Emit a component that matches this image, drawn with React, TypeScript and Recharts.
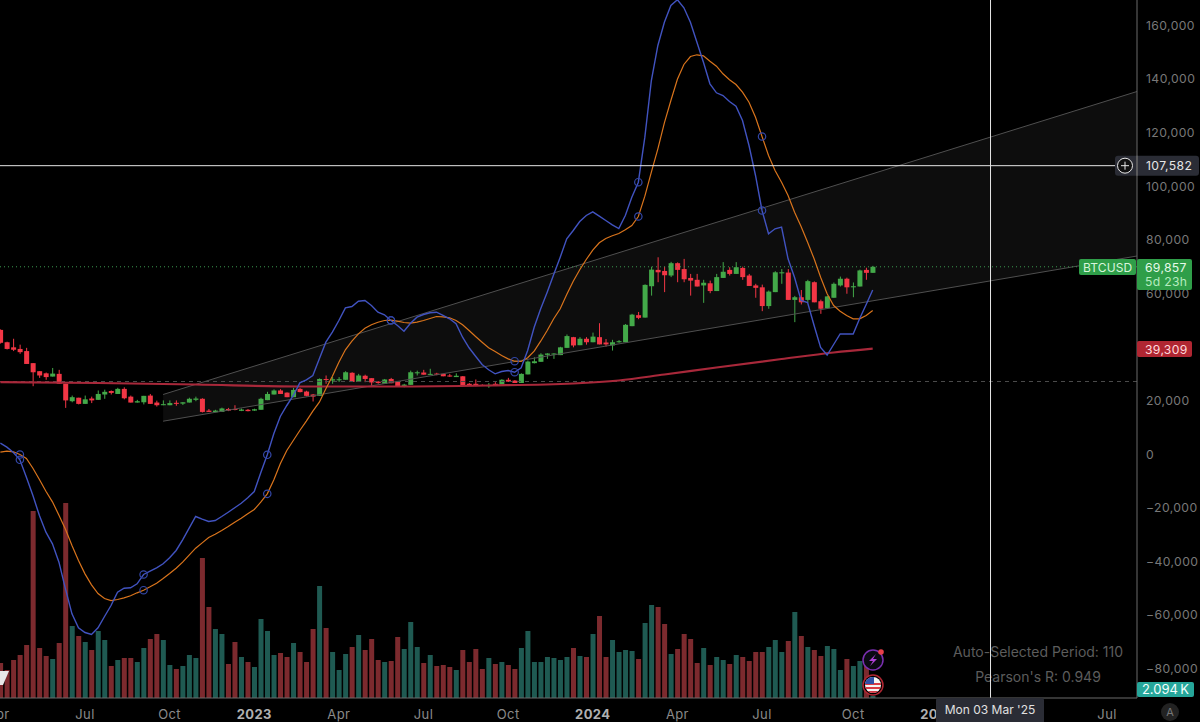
import React from "react";
import {
  ComposedChart, XAxis, YAxis, Bar, Line, Area, ReferenceLine,
} from "recharts";

const opens = [46.3,41.7,39.8,39.2,38.4,33.9,30.9,30.1,28.9,29.9,
26.2,19.7,21,18.7,20.7,20.2,22.2,23.5,22.4,24.3,
21.4,19.2,19.3,21.8,19.2,18.2,18.2,19.1,18.8,19.2,
20.2,20.6,16.2,15.6,15.7,16.8,16.8,16.1,16.5,16.2,
16.5,20.1,22.2,23.7,22.9,21.2,24.3,23.3,22.2,21.7,
28,27.4,27.5,27.7,30.3,26.9,29.2,28.3,27,26.2,
28,27,25.4,25.8,30.1,30.4,29.6,30,29.9,29.3,
28.7,29,26.2,26.2,25.8,25.3,26.2,25.9,27.7,27.4,
26.5,29.7,33.9,34.4,37,37.1,36.9,39.6,43.6,40.6,
43,41.7,43.6,41.6,40.5,41.7,41.7,47.7,51.8,50.9,
62.6,68.7,68.3,66.6,71.2,69,65.7,65,62.9,63.7,
60.8,65.7,68.7,67.2,69.4,66.6,62.9,62.2,55.2,60.4,
67.4,67.7,57.5,58.5,57.5,64.1,57,54.4,58.3,62.9,
65.4,62.2,62.5,68.7,67.6];
const closes = [41.5,39.2,38.9,38,33.6,30.5,29.3,28.7,30,26.2,
20,21.2,18.7,20.4,20,22.4,23.2,22.8,24.3,20.8,
19.2,19.7,21.7,18.7,18.2,18.6,19,18.7,19.3,20.6,
20.7,15.7,15.7,16.2,17,16.2,16.5,16.6,16,16.7,
20.6,22.4,23.7,22.4,21.2,23.9,23.1,21.7,21.4,28,
27.7,27.9,27.9,30.5,26.9,29.3,28,26.7,26.5,27.8,
26.4,25.2,25.9,30.5,30.5,29.6,29.9,29.6,29,28.9,
29.2,25.5,25.5,25.4,25.5,25.8,25.5,27.7,27,26.5,
29.9,34.5,34.6,37.1,37.5,37.5,39.8,44,40.5,43,
41.7,43.8,40.9,40.9,41.7,42.1,48.2,52,50.8,63.1,
68.8,67.8,66.7,71.2,68.7,65.2,64.7,62.5,63.9,60.8,
66,68,67.2,69.7,66,62.7,62,55.2,60.6,67.8,
67.8,57.5,58.5,56.6,64.5,56.6,54.2,58.8,63.5,65.4,
62.2,62.6,68.5,67.6,69.857];
const highs = [46.5,41.9,43,40.8,39.6,33.9,30.9,30.4,32.1,31.4,
26.2,21.8,21,21.8,21.4,23.7,24,23.7,24.7,24.9,
21.8,20.2,21.7,22.4,19.9,20,20,20,19.3,21,
21.4,20.8,16.8,16.5,17.3,17.2,18.2,17,16.8,16.9,
21,23.2,24.1,24.2,23,24.7,24.6,23.6,22.4,28.2,
29.3,28.7,28.7,30.9,30.5,29.9,29.6,28.3,27.2,28,
28.4,27.2,26.2,31.1,31.1,31.4,31.8,30.3,30,29.9,
30.1,29.1,26.5,27.8,26,26.5,26.8,27.9,28.4,27.6,
30.1,34.9,36.1,37.6,37.6,37.6,40,44.6,43.7,43.6,
43.6,45.3,48.8,42.9,42.6,42.5,48.5,52.3,53,63.3,
69.9,73.4,69.9,71.7,71.5,72.8,67.2,67.2,65,64.7,
67.2,71.6,69.7,71.6,69.9,67.2,63.5,63.2,61,68.2,
69,69,59,61.2,65,64.4,57.6,59,64,66.2,
65.8,64,68.8,69.5,70.2];
const lows = [41.2,39,38.4,37.4,33.6,25.3,28.4,27.7,28.9,26.2,
17.2,19.3,18.5,18.7,19,20.2,20.6,22.2,22.4,20.4,
19.2,19.2,18.5,18.7,17.7,18.2,18.2,18,18.3,19.2,
19.7,15.5,15.7,15.6,15.7,16,16.3,16,15.9,16.1,
16.5,20.1,22.2,22.4,21.2,21.2,23,21.5,19.6,21.7,
26.2,26.2,26.9,27.7,26.9,26.9,26.8,25.3,26.2,26.2,
26.4,25.2,24.9,25.8,29.3,29.6,29.6,29.4,29,28.8,
28.7,25.5,25.5,25.3,25.4,24.7,25.5,25.9,26.9,26.5,
26.5,29.7,33.8,34.4,35.5,35.5,36.9,39.6,39.8,40.6,
40.8,41.7,40.9,40.1,38.6,41.5,41.7,47.7,50.3,50.9,
59.1,64.1,60.4,66,64.1,64.1,59.1,62.5,56.4,60,
60.8,65.7,66.6,67.2,65,62.7,58.3,53.3,54.2,60.4,
63.5,57.5,49.2,55.8,56.5,56.6,52.3,54.4,58.3,62.5,
59.8,58.5,62.5,65,67.6];
const volumes = [35,28,38,43,53,187,50,42,39,55,
195,72,62,56,48,67,58,32,38,40,
40,36,50,59,64,58,33,29,32,43,
40,140,91,69,64,34,56,41,36,31,
79,67,43,45,41,55,46,36,69,112,
70,46,28,44,51,63,48,59,38,36,
37,61,49,76,51,35,43,32,33,31,
28,48,36,49,29,40,34,36,33,29,
50,67,36,36,41,40,38,41,50,42,
41,64,82,41,58,46,48,47,39,75,
93,91,74,44,49,64,59,35,50,33,
41,38,34,43,41,37,46,46,51,58,
46,57,86,62,51,48,42,52,49,28,
39,32,37,35,2.094];
const blueLine = [4030,2540,560,-2170,-8650,-15480,-22950,-29160,-33520,-40360,
-50300,-59640,-64870,-66600,-67350,-64870,-60630,-56530,-51560,-50070,
-49930,-48430,-44960,-43730,-42460,-40970,-38730,-36000,-32010,-27690,
-23320,-24330,-25190,-24810,-23320,-21720,-20070,-18360,-16340,-13990,
-7000,-300,7530,13990,18100,21830,26550,27670,29290,35510,
41730,45460,49800,54550,55040,57020,57280,55410,52910,51940,
49810,47950,45820,48810,51040,52050,52690,52910,51680,50450,
48580,43580,39630,36490,33390,31420,29920,30780,31160,30520,
32160,38620,47310,54180,60380,66980,73430,80290,83400,86750,
89000,90370,88730,87130,85520,84140,89000,95820,101420,118210,
139360,152430,161120,167350,169500,166490,161120,153660,146190,138130,
134780,133770,131530,129780,124440,115110,103920,90860,82170,84030,
84630,72830,65860,57280,56530,47950,39740,36940,40860,44780,
44780,44780,50560,55780,61190];
const orangeLine = [670,1050,820,-190,-1680,-5300,-9510,-13880,-17840,-22820,
-28060,-34140,-39740,-44720,-48820,-52050,-53920,-54670,-54290,-53670,
-52910,-51800,-50820,-49560,-48200,-46460,-44590,-42610,-40360,-37760,
-35150,-33150,-31160,-29910,-28540,-27050,-25430,-23950,-22320,-20710,
-17990,-14860,-9700,-3660,1310,5040,8770,12240,15970,19330,
24330,29030,34250,38880,42090,44850,46940,48210,49180,49810,
49930,49550,49070,48810,49180,49810,50560,51300,51190,50820,
49810,48210,46080,43840,41720,39630,38250,36750,35510,34630,
34510,35900,38360,42090,46080,50450,54180,59510,64480,68730,
72570,76050,78800,80410,81420,82270,83660,85260,88620,96200,
105150,113880,123580,131900,139850,145340,148320,148960,148580,146570,
144700,141870,139630,137870,135000,131270,125670,118470,111380,105780,
101420,96460,90220,84890,79030,72830,65970,59780,55410,53280,
51680,50450,50450,51680,53540];
const maWeeks = [0,15,30,46,60,75,88,95,102,110,120,128,134];
const maValues = [26790,26490,25930,25190,25190,25560,26310,27430,29660,32280,35450,37870,39309];
const crossWeeks = [3,22,41,60,79,98,117];
const channelWeeks = [25,174.6];
const channelUpper = [22200,135260];
const channelLower = [12240,73880];
const priceTicks = [160000,140000,120000,100000,80000,60000,20000,0,-20000,-40000,-60000,-80000];
const timeTicks = [-0.05,13,26,39,52,65,78,91,104,117,131,144,170];
const timeLabels = ["Apr","Jul","Oct","2023","Apr","Jul","Oct","2024","Apr","Jul","Oct","2025","Jul"];
const lastPrice = 69857;
const cursorPrice = 107582;
const cursorWeek = 152.1;
const dashedLevel = 27050;

const UP = "#43a949";
const DOWN = "#f23645";
const VOL_UP = "#1f5a52";
const VOL_DOWN = "#7c2a2e";
const FONT = "Inter, sans-serif";

const rows = opens.map((o, i) => {
  const m = maWeeks.indexOf(i);
  return {
    i,
    open: o * 1000,
    close: closes[i] * 1000,
    high: highs[i] * 1000,
    low: lows[i] * 1000,
    volume: volumes[i],
    blue: blueLine[i],
    orange: orangeLine[i],
    ma: m >= 0 ? maValues[m] : null,
  };
});
const channelRows = channelWeeks.map((i, k) => ({
  i,
  upper: channelUpper[k],
  lower: channelLower[k],
  band: [channelLower[k], channelUpper[k]],
}));

const Candle = (props: any) => {
  const { x, y, width, height, payload } = props;
  const top = Math.min(y, y + height);
  const h = Math.abs(height);
  const range = Math.max(payload.high - payload.low, 1);
  const yOf = (v: number) => top + ((payload.high - v) / range) * h;
  const up = payload.close >= payload.open;
  const color = up ? UP : DOWN;
  const by = yOf(Math.max(payload.open, payload.close));
  const bb = yOf(Math.min(payload.open, payload.close));
  const cx = x + width / 2;
  return (
    <g>
      <line x1={cx} x2={cx} y1={top} y2={top + h} stroke={color} strokeWidth={1} />
      <rect x={x} y={by} width={width} height={Math.max(bb - by, 1)} fill={color} />
    </g>
  );
};

const VolumeBar = (props: any) => {
  const { x, y, width, height, payload } = props;
  const up = payload.close >= payload.open;
  return <rect x={x} y={y} width={width} height={height} fill={up ? VOL_UP : VOL_DOWN} />;
};

const crossDot = (props: any) => {
  const { cx, cy, payload, index } = props;
  if (!crossWeeks.includes(payload.i)) return <g key={index} />;
  return <circle key={index} cx={cx} cy={cy} r={3.7} fill="none" stroke="#3347a8" strokeWidth={1.2} />;
};

const PriceTick = (props: any) => {
  const { x, y, payload } = props;
  const v = payload.value;
  const s = (v < 0 ? "\u2212" : "") + Math.abs(v).toLocaleString("en-US");
  return (
    <text x={x + 1} y={y + 4.5} fill="#787878" fontFamily={FONT} fontSize={12.2} letterSpacing={0.4}>{s}</text>
  );
};

const TimeTick = (props: any) => {
  const { x, y, payload } = props;
  const k = timeTicks.indexOf(payload.value);
  const label = timeLabels[k];
  const year = /^\d+$/.test(label);
  return (
    <text x={k === 0 ? x - 2 : x} y={y + 13} textAnchor="middle" fill={year ? "#b0b0b0" : "#8a8a8a"}
      fontFamily={FONT} fontSize={13} fontWeight={year ? 700 : 400} letterSpacing={0.4}>{label}</text>
  );
};

const CursorBadge = (props: any) => {
  const { viewBox } = props;
  const y = viewBox.y;
  return (
    <g>
      <rect x={1115} y={y - 10} width={84} height={20} rx={3} fill="#2a2c35" />
      <line x1={1137} x2={1137} y1={y - 10} y2={y + 10} stroke="#6a6a6a" />
      <circle cx={1125} cy={y} r={7.5} fill="#111" stroke="#e8e8e8" strokeWidth={1} />
      <path d={`M1121 ${y}H1129M1125 ${y - 4}V${y + 4}`} stroke="#e8e8e8" strokeWidth={1} />
      <text x={1146} y={y + 4.5} fill="#e6e6e6" fontFamily={FONT} fontSize={12.2} letterSpacing={0.4}>107,582</text>
    </g>
  );
};

const overlayText = (s: React.CSSProperties): React.CSSProperties => ({
  position: "absolute",
  fontFamily: FONT,
  whiteSpace: "nowrap",
  ...s,
});

export default function App() {
  return (
    <div style={{ position: "fixed", left: 0, top: 0, width: 1200, height: 722, background: "#000", overflow: "hidden" }}>
      <div style={overlayText({ left: 938, width: 200, top: 643, textAlign: "center", fontSize: 14, color: "#5c5c5c" })}>
        Auto-Selected Period: 110
      </div>
      <div style={overlayText({ left: 938, width: 200, top: 668, textAlign: "center", fontSize: 14, color: "#5c5c5c" })}>
        Pearson's R: 0.949
      </div>
      <div style={{ position: "absolute", left: 0, top: 0 }}>
        <ComposedChart width={1200} height={722} data={rows} margin={{ top: 0, right: 0, bottom: 0, left: 0 }}>
          <XAxis
            dataKey="i" type="number" domain={[-0.055, 174.6]} allowDataOverflow
            ticks={timeTicks} interval={0} tick={<TimeTick />} tickLine={false}
            axisLine={{ stroke: "#6a6a6a" }} height={24}
          />
          <XAxis xAxisId="vol" dataKey="i" type="number" domain={[-0.055, 174.6]} allowDataOverflow hide />
          <YAxis
            yAxisId="price" orientation="right" width={63} type="number"
            domain={[-91044, 169403]} allowDataOverflow ticks={priceTicks} interval={0}
            tick={<PriceTick />} tickLine={false} axisLine={{ stroke: "#6a6a6a" }}
          />
          <YAxis yAxisId="volume" hide type="number" domain={[0, 698]} allowDataOverflow />

          <Bar xAxisId="vol" yAxisId="volume" dataKey="volume" barSize={5} shape={<VolumeBar />} isAnimationActive={false} />

          <Area
            yAxisId="price" data={channelRows} dataKey="band" type="linear"
            fill="#ffffff" fillOpacity={0.05} stroke="none" isAnimationActive={false} dot={false} activeDot={false}
          />
          <Line yAxisId="price" data={channelRows} dataKey="upper" type="linear" stroke="#4f4f4f" strokeWidth={1} dot={false} activeDot={false} isAnimationActive={false} />
          <Line yAxisId="price" data={channelRows} dataKey="lower" type="linear" stroke="#4f4f4f" strokeWidth={1} dot={false} activeDot={false} isAnimationActive={false} />

          <ReferenceLine yAxisId="price" y={dashedLevel} stroke="#4a4a4a" strokeDasharray="4 4" />
          <ReferenceLine yAxisId="price" y={lastPrice} stroke="#3b9a50" strokeDasharray="1 3" />

          <Line yAxisId="price" dataKey="ma" type="monotone" connectNulls stroke="#a8283a" strokeWidth={2.2} dot={false} activeDot={false} isAnimationActive={false} />

          <Bar yAxisId="price" dataKey={(d: any) => [d.low, d.high]} barSize={5} shape={<Candle />} isAnimationActive={false} />

          <Line yAxisId="price" dataKey="orange" type="linear" stroke="#d9741c" strokeWidth={1.2} dot={crossDot} activeDot={false} isAnimationActive={false} />
          <Line yAxisId="price" dataKey="blue" type="linear" stroke="#4153c0" strokeWidth={1.4} dot={crossDot} activeDot={false} isAnimationActive={false} />

          <ReferenceLine yAxisId="price" x={cursorWeek} stroke="#e6e6e6" strokeWidth={1} />
          <ReferenceLine yAxisId="price" y={cursorPrice} stroke="#e6e6e6" strokeWidth={1} label={<CursorBadge />} />
        </ComposedChart>
      </div>

      <div style={overlayText({ left: 1137, top: 682, width: 57, height: 15, lineHeight: "15px", borderRadius: 2, background: "#26a69a", color: "#f2fffd", fontSize: 13, textAlign: "center" })}>
        2.094{"\u2009"}K
      </div>
      <div style={overlayText({ left: 936, top: 698, width: 108, height: 24, lineHeight: "24px", borderRadius: "2px 2px 0 0", background: "#2a2c35", color: "#e0e0e0", fontSize: 12, textAlign: "center" })}>
        Mon 03 Mar '25
      </div>
      <div style={overlayText({ left: 1161, top: 703, width: 18, height: 18, lineHeight: "18px", borderRadius: 9, background: "#222", color: "#777", fontSize: 11, textAlign: "center" })}>
        A
      </div>
      <svg width={1200} height={722} style={{ position: "absolute", left: 0, top: 0, pointerEvents: "none" }}>
        <defs>
          <clipPath id="flagClip"><circle cx={873} cy={685} r={8} /></clipPath>
        </defs>
        <rect x={1079} y={259} width={57} height={16} rx={2} fill="#2f9e49" />
        <text x={1083} y={271.5} fill="#d8f5dc" fontFamily={FONT} fontSize={12} letterSpacing={0.1}>BTCUSD</text>
        <rect x={1137} y={259} width={55} height={31} rx={2} fill="#2f9e49" />
        <text x={1145} y={271.5} fill="#e6fae9" fontFamily={FONT} fontSize={12.2} letterSpacing={0.3}>69,857</text>
        <text x={1145} y={285.5} fill="#b5ecbf" fontFamily={FONT} fontSize={12.2} letterSpacing={0.3}>5d 23h</text>
        <rect x={1137} y={341} width={55} height={16} rx={2} fill="#b02632" />
        <text x={1145} y={353.5} fill="#ffd9dc" fontFamily={FONT} fontSize={12.2} letterSpacing={0.3}>39,309</text>
        <path d="M0 671H9L3 685H0Z" fill="#e8e8e8" />
        <circle cx={873} cy={660} r={10} fill="#0a0a12" stroke="#7a2fb0" strokeWidth={1.5} />
        <path d="M876 654L869 661H873L870 666L877 659H873Z" fill="#b040d8" />
        <circle cx={881} cy={652} r={2.8} fill="#e8404a" />
        <circle cx={873} cy={685} r={10} fill="#000" stroke="#b02632" strokeWidth={1.5} />
        <g clipPath="url(#flagClip)">
          <rect x={864} y={676} width={18} height={18} fill="#f4f4f4" />
          <path d="M864 684H882M864 688H882M864 692H882" stroke="#d83a45" strokeWidth={1.8} />
          <rect x={864} y={676} width={10} height={8} fill="#3050a8" />
        </g>
      </svg>
    </div>
  );
}
